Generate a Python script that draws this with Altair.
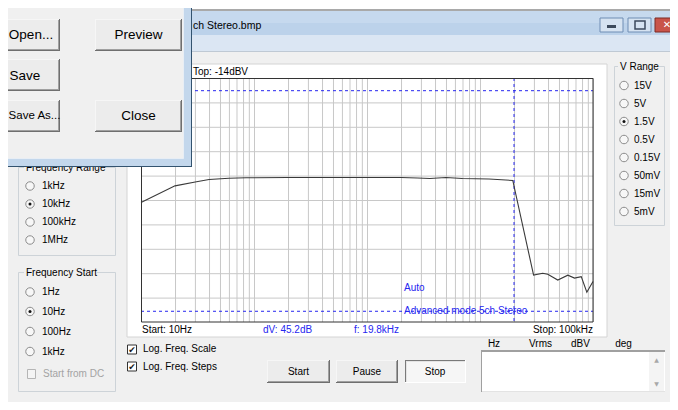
import altair as alt
import pandas as pd

freq_hz = [10, 20, 31, 40, 60, 85, 200, 500, 1000, 2000, 2800, 3600, 5000, 7000,
           12000, 19500, 29800, 35900, 39800, 48800, 59900, 68600, 78700, 88200, 100000]
level_dbv = [-39.5, -36.1, -35.25, -34.8, -34.55, -34.45, -34.4, -34.4, -34.4, -34.4,
             -34.5, -34.6, -34.4, -34.6, -34.7, -35.0, -54.4, -54.0, -54.2, -55.4,
             -54.4, -55.0, -54.7, -57.9, -55.7]

# cursors
cursor_freq_hz = [19800]
cursor_level_dbv = [-16.5, -61.7]

# display range
freq_start_hz = 10
freq_stop_hz = 100000
top_dbv = -14
db_per_div = 5
n_div = 10
bottom_dbv = top_dbv - db_per_div * n_div

grid_freq_hz = [m * 10 ** d for d in range(1, 5) for m in range(1, 10)] + [100000]
grid_level_dbv = [top_dbv - db_per_div * k for k in range(1, n_div)]

# GUI labels
freq_range_labels = ["1kHz", "10kHz", "100kHz", "1MHz"]
freq_start_labels = ["1Hz", "10Hz", "100Hz", "1kHz"]
v_range_labels = ["15V", "5V", "1.5V", "0.5V", "0.15V", "50mV", "15mV", "5mV"]
list_headers = ["Hz", "Vrms", "dBV", "deg"]

# ---------------- layout (screen pixels) ----------------
OX, OY = 141, 78          # plot origin in window pixels
W, H = 452, 244
FONT = "Liberation Sans"
BLUE = "#2626f0"
GRID = "#c8c8c8"
SVG_W, SVG_H = 662, 394   # page minus its 8px margins


def px(x):
    return x - OX


def py(y):
    return y - OY


bg, dlg = [], []


def rect(store, x1, y1, x2, y2, fill, stroke="transparent", sw=1):
    store.append(dict(x1=px(x1), y1=py(y1), x2=px(x2), y2=py(y2),
                      fill=fill, stroke=stroke, sw=sw))


def button(store, x1, y1, x2, y2, pressed=False):
    if not pressed:
        rect(store, x1, y1, x2, y2, "#6f6f6f")
        rect(store, x1, y1, x2 - 1, y2 - 1, "#f6f6f6")
        rect(store, x1 + 1, y1 + 1, x2 - 1, y2 - 1, "#a0a0a0")
        rect(store, x1 + 1, y1 + 1, x2 - 2, y2 - 2, "#ececec")
    else:
        rect(store, x1, y1, x2, y2, "#ffffff")
        rect(store, x1, y1, x2 - 1, y2 - 1, "#7a7a7a")
        rect(store, x1 + 1, y1 + 1, x2 - 1, y2 - 1, "#e4e4e4")
        rect(store, x1 + 2, y1 + 2, x2 - 1, y2 - 1, "#f6f6f6")


# window background
rect(bg, 0, 0, 680, 412, "#f0f0f0")
rect(bg, 0, 0, 680, 10, "#ffffff")
rect(bg, 0, 9, 680, 11, "#a9a9a9")
rect(bg, 0, 11, 680, 23, "#c6d9ee")
rect(bg, 0, 23, 680, 35, "#bcd2ea")
rect(bg, 0, 35, 680, 51, "#dbe6f3")
rect(bg, 0, 51, 680, 52, "#bfc9d4")
rect(bg, 0, 405, 680, 412, "#c3d7ec")
rect(bg, 0, 404, 680, 405, "#8fa9c4")
# title bar buttons
rect(bg, 600, 18, 623, 32, "#d6e3f1", "#6f8db4")
rect(bg, 607, 25, 616, 28, "#3c4a5c")
rect(bg, 628, 18, 651, 32, "#d6e3f1", "#6f8db4")
rect(bg, 635, 21, 645, 29, "transparent", "#3c4a5c", 1.5)
rect(bg, 655, 18, 682, 32, "#c9544a", "#7c2b24")
# chart panel
rect(bg, 127, 64, 607, 337, "#ffffff", "#d4d4d4")
# group boxes
GB = "#cdd3d8"
rect(bg, 18.5, 167.5, 115.5, 255.5, "transparent", GB)
rect(bg, 24, 161, 104, 173, "#f0f0f0")
rect(bg, 18.5, 272.5, 115.5, 391.5, "transparent", GB)
rect(bg, 24, 266, 97, 278, "#f0f0f0")
rect(bg, 614.5, 66.5, 664.5, 225.5, "transparent", GB)
rect(bg, 618, 60, 659, 73, "#f0f0f0")
# check boxes
for cy in (349.5, 366.5):
    rect(bg, 127.5, cy - 4.5, 136.5, cy + 4.5, "#ffffff", "#333333")
rect(bg, 27.5, 369.5, 35.5, 378.5, "#f4f4f4", "#b5b5b5")
# buttons
button(bg, 267, 360, 330, 383)
button(bg, 336, 360, 398, 383)
button(bg, 405, 360, 466, 383, pressed=True)
# list box
rect(bg, 481, 350, 665, 392, "#ffffff")
rect(bg, 481, 350, 665, 352, "#a0a0a0")
rect(bg, 481, 350, 482, 392, "#a0a0a0")
rect(bg, 482, 391, 665, 392, "#e3e3e3")
rect(bg, 649, 352, 664, 391, "#f4f4f4")

# dialog (on top)
rect(dlg, -30, -30, 192, 167, "#33536f")
rect(dlg, -30, -30, 191, 166, "#c3d7ec")
rect(dlg, -30, -30, 183.5, 158.5, "#f0f0f0", "#e8eef5")
button(dlg, -26, 19, 60, 51)
button(dlg, 95, 19, 182, 51)
button(dlg, -26, 59, 60, 91)
button(dlg, -26, 100, 60, 132)
button(dlg, 95, 100, 182, 132)


def rect_layer(items):
    return alt.Chart(pd.DataFrame(items)).mark_rect().encode(
        x=alt.X("x1:Q", scale=None, axis=None), x2="x2:Q",
        y=alt.Y("y1:Q", scale=None, axis=None), y2="y2:Q",
        fill=alt.Fill("fill:N", scale=None, legend=None),
        stroke=alt.Stroke("stroke:N", scale=None, legend=None),
        strokeWidth=alt.StrokeWidth("sw:Q", scale=None, legend=None),
    )


def fmt_f(f):
    if f >= 1000:
        v = f / 1000
        return (f"{v:.1f}" if v < 100 and v != int(v) else f"{int(v)}") + "kHz"
    return f"{f}Hz"


texts = {"left": [], "center": [], "right": []}


def txt(align, x, y, t, s=10, c="#000000"):
    texts[align].append(dict(x=px(x), y=py(y), t=t, s=s, c=c))


txt("left", 193, 25.5, "ch Stereo.bmp", 10.5)
txt("left", 193, 72, f"Top: {top_dbv}dBV")
txt("left", 142, 329.5, f"Start: {fmt_f(freq_start_hz)}")
txt("left", 263, 329.5, f"dV: {cursor_level_dbv[0] - cursor_level_dbv[1]:.1f}dB", c=BLUE)
txt("left", 354, 329.5, f"f: {fmt_f(cursor_freq_hz[0])}", c=BLUE)
txt("right", 593, 329.5, f"Stop: {fmt_f(freq_stop_hz)}")
txt("left", 404, 288, "Auto", c=BLUE)
txt("left", 404, 311, "Advanced mode 5ch Stereo", c=BLUE)
txt("left", 26, 167.5, "Frequency Range")
txt("left", 26, 272.5, "Frequency Start")
txt("left", 620, 67, "V Range")
txt("left", 43, 374, "Start from DC", c="#a3a3a3")
txt("left", 143, 349, "Log. Freq. Scale")
txt("left", 143, 366.5, "Log. Freq. Steps")
txt("center", 298.5, 371.5, "Start")
txt("center", 367, 371.5, "Pause")
txt("center", 435, 371.5, "Stop")

radios = []
ry_fr = [186, 204, 222, 240]
for lab, yy in zip(freq_range_labels, ry_fr):
    txt("left", 42, yy, lab)
    radios.append(dict(x=px(30), y=py(yy), sel=(lab == "10kHz")))
ry_fs = [292, 311.5, 331.5, 351.5]
for lab, yy in zip(freq_start_labels, ry_fs):
    txt("left", 42, yy, lab)
    radios.append(dict(x=px(30), y=py(yy), sel=(lab == "10Hz")))
for i, lab in enumerate(v_range_labels):
    yy = 85.5 + 18 * i
    txt("left", 634, yy, lab)
    radios.append(dict(x=px(624), y=py(yy), sel=(lab == "1.5V")))
for lab, xx in zip(list_headers, [494, 540.5, 580.5, 623.5]):
    txt("center", xx, 344, lab)


def text_layer(items, align, font=FONT):
    return alt.Chart(pd.DataFrame(items)).mark_text(
        align=align, baseline="middle", font=font).encode(
        x=alt.X("x:Q", scale=None, axis=None),
        y=alt.Y("y:Q", scale=None, axis=None),
        text="t:N",
        color=alt.Color("c:N", scale=None, legend=None),
        size=alt.Size("s:Q", scale=None, legend=None),
    )


glyphs = [dict(x=px(132), y=py(349.5), t="\u2714", s=9, c="#1a1a1a"),
          dict(x=px(132), y=py(366.5), t="\u2714", s=9, c="#1a1a1a"),
          dict(x=px(656.5), y=py(360), t="\u25b2", s=6, c="#a8a8a8"),
          dict(x=px(656.5), y=py(384), t="\u25bc", s=6, c="#a8a8a8"),
          dict(x=px(667), y=py(25), t="\u2715", s=10, c="#ffffff")]

dlg_texts = [dict(x=px(31), y=py(35), t="Open...", s=13.5, c="#000000"),
             dict(x=px(138.5), y=py(35), t="Preview", s=13.5, c="#000000"),
             dict(x=px(25), y=py(75.5), t="Save", s=13.5, c="#000000"),
             dict(x=px(34.5), y=py(115.5), t="Save As...", s=11.5, c="#000000"),
             dict(x=px(138.5), y=py(115.5), t="Close", s=13.5, c="#000000")]

radio_df = pd.DataFrame(radios)
radio_ring = alt.Chart(radio_df).mark_circle(
    size=72, color="#f7f7f7", stroke="#8c8c8c", strokeWidth=1, opacity=1).encode(
    x=alt.X("x:Q", scale=None, axis=None), y=alt.Y("y:Q", scale=None, axis=None))
radio_dot = alt.Chart(radio_df).transform_filter("datum.sel").mark_circle(
    size=9, color="#111111", opacity=1).encode(
    x=alt.X("x:Q", scale=None, axis=None), y=alt.Y("y:Q", scale=None, axis=None))

# ---------------- plot layers ----------------
xs = alt.Scale(type="log", domain=[freq_start_hz, freq_stop_hz], nice=False)
ys = alt.Scale(domain=[bottom_dbv, top_dbv], nice=False, zero=False)

grid_v = alt.Chart(pd.DataFrame({"f": grid_freq_hz})).mark_rule(
    color=GRID, strokeWidth=1, xOffset=0.5).encode(
    x=alt.X("f:Q", scale=xs, axis=None), y=alt.value(0), y2=alt.value(H))
grid_h = alt.Chart(pd.DataFrame({"d": grid_level_dbv})).mark_rule(
    color=GRID, strokeWidth=1, yOffset=0.5).encode(
    y=alt.Y("d:Q", scale=ys, axis=None), x=alt.value(0), x2=alt.value(W))
cur_h = alt.Chart(pd.DataFrame({"d": cursor_level_dbv})).mark_rule(
    color=BLUE, strokeWidth=1, strokeDash=[3, 3], yOffset=0.5).encode(
    y=alt.Y("d:Q", scale=ys, axis=None), x=alt.value(0), x2=alt.value(W))
cur_v = alt.Chart(pd.DataFrame({"f": cursor_freq_hz})).mark_rule(
    color=BLUE, strokeWidth=1, strokeDash=[3, 3], xOffset=0.5).encode(
    x=alt.X("f:Q", scale=xs, axis=None), y=alt.value(0), y2=alt.value(H))
curve = alt.Chart(pd.DataFrame({"f": freq_hz, "d": level_dbv})).mark_line(
    color="#3a3a3a", strokeWidth=1.1).encode(
    x=alt.X("f:Q", scale=xs, axis=None), y=alt.Y("d:Q", scale=ys, axis=None))
frame = alt.Chart(pd.DataFrame({"f1": [freq_start_hz], "f2": [freq_stop_hz],
                                "d1": [top_dbv], "d2": [bottom_dbv]})).mark_rect(
    fillOpacity=0, stroke="#333333", strokeWidth=1, xOffset=0.5, yOffset=0.5).encode(
    x=alt.X("f1:Q", scale=xs, axis=None), x2="f2:Q",
    y=alt.Y("d1:Q", scale=ys, axis=None), y2="d2:Q")

layers = [rect_layer(bg), grid_v, grid_h, cur_h, cur_v, curve, frame,
          text_layer(texts["left"], "left"), text_layer(texts["center"], "center"),
          text_layer(texts["right"], "right"),
          radio_ring, radio_dot,
          text_layer(glyphs, "center", "DejaVu Sans"),
          rect_layer(dlg), text_layer(dlg_texts, "center")]

chart = alt.layer(*layers).resolve_scale(
    x="independent", y="independent", color="independent",
    size="independent").properties(
    width=W, height=H,
    autosize=alt.AutoSizeParams(type="none"),
    padding={"left": OX - 8, "top": OY - 8, "right": SVG_W - (OX - 8) - W,
             "bottom": SVG_H - (OY - 8) - H},
).configure_view(stroke="transparent")

chart.save("out.html", embed_options={"renderer": "svg", "actions": False})
